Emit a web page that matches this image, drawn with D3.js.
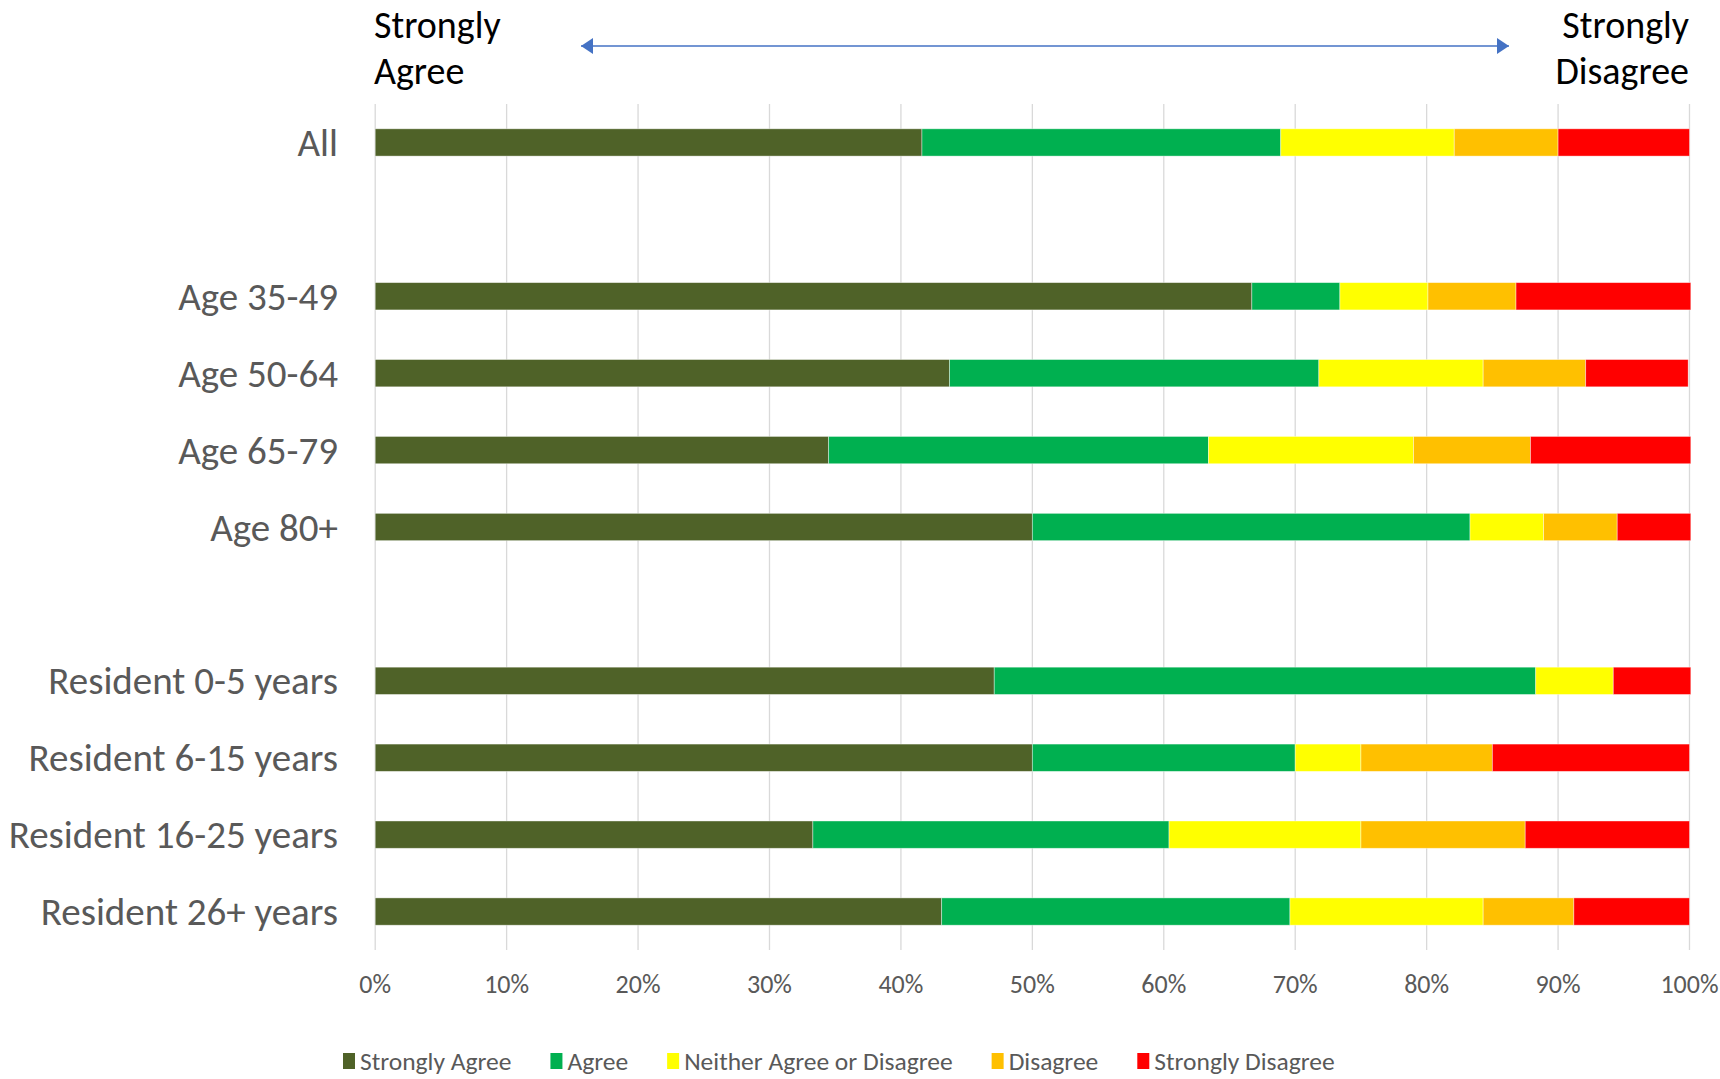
<!DOCTYPE html>
<html>
<head>
<meta charset="utf-8">
<script src="https://cdn.jsdelivr.net/npm/d3@7"></script>
<style>
  html, body { margin: 0; padding: 0; background: #fff; }
  svg { display: block; }
  text { font-family: Carlito, Calibri, Lato, "Open Sans", sans-serif; }
</style>
</head>
<body>
<svg id="chart" width="1720" height="1079"></svg>
<script>
// ---- data ----
const categories = ["All", "", "Age 35-49", "Age 50-64", "Age 65-79", "Age 80+", "",
  "Resident 0-5 years", "Resident 6-15 years", "Resident 16-25 years", "Resident 26+ years"];
const seriesNames = ["Strongly Agree", "Agree", "Neither Agree or Disagree", "Disagree", "Strongly Disagree"];
const stronglyAgree    = [41.6, 0, 66.7, 43.7, 34.5, 50.0, 0, 47.1, 50.0, 33.3, 43.1];
const agree            = [27.3, 0,  6.7, 28.1, 28.9, 33.3, 0, 41.2, 20.0, 27.1, 26.5];
const neither          = [13.2, 0,  6.7, 12.5, 15.6,  5.6, 0,  5.9,  5.0, 14.6, 14.7];
const disagree         = [ 7.9, 0,  6.7,  7.8,  8.9,  5.6, 0,  0.0, 10.0, 12.5,  6.9];
const stronglyDisagree = [10.0, 0, 13.3,  7.8, 12.2,  5.6, 0,  5.9, 15.0, 12.5,  8.8];
const seriesColors = ["#4F6228", "#00B050", "#FFFF00", "#FFC000", "#FF0000"];
const xTicks = [0, 10, 20, 30, 40, 50, 60, 70, 80, 90, 100];
const headerLeft = ["Strongly", "Agree"];
const headerRight = ["Strongly", "Disagree"];

const seriesValues = [stronglyAgree, agree, neither, disagree, stronglyDisagree];

// ---- layout ----
const svg = d3.select("#chart");
const x = d3.scaleLinear().domain([0, 100]).range([375.2, 1689.5]);
const y = d3.scaleBand().domain(d3.range(categories.length)).range([104, 950])
  .paddingInner(0.645).paddingOuter(0.3225);

// gridlines
svg.append("g").selectAll("line").data(xTicks).join("line")
  .attr("x1", d => x(d)).attr("x2", d => x(d))
  .attr("y1", 104).attr("y2", 950)
  .attr("stroke", "#D9D9D9").attr("stroke-width", 1.3);

// stacked bars
const rows = categories.map((c, i) => {
  const obj = { i };
  seriesNames.forEach((n, k) => obj[n] = seriesValues[k][i]);
  return obj;
});
const stack = d3.stack().keys(seriesNames)(rows);
svg.append("g").selectAll("g").data(stack).join("g")
  .attr("fill", (d, k) => seriesColors[k])
  .selectAll("rect").data(d => d.filter(p => p[1] - p[0] > 0)).join("rect")
  .attr("x", d => x(d[0])).attr("width", d => x(d[1]) - x(d[0]))
  .attr("y", d => y(d.data.i)).attr("height", y.bandwidth())
  .attr("stroke", "#ffffff").attr("stroke-opacity", 0.5).attr("stroke-width", 0.8);

// category labels
svg.append("g").selectAll("text").data(categories.map((c, i) => ({ c, i })).filter(d => d.c))
  .join("text")
  .attr("x", 338).attr("y", d => y(d.i) + y.bandwidth() / 2)
  .attr("dy", "0.35em").attr("text-anchor", "end")
  .attr("font-size", 39).attr("fill", "#595959")
  .text(d => d.c);

// x axis tick labels
svg.append("g").selectAll("text").data(xTicks).join("text")
  .attr("x", d => x(d)).attr("y", 984).attr("dy", "0.35em")
  .attr("text-anchor", "middle").attr("font-size", 26).attr("fill", "#595959")
  .text(d => d + "%");

// header
const hl = svg.append("text").attr("font-size", 38).attr("fill", "#000");
headerLeft.forEach((t, k) => hl.append("tspan").attr("x", 374).attr("y", 38 + k * 46).text(t));
const hr = svg.append("text").attr("font-size", 38).attr("fill", "#000").attr("text-anchor", "end");
headerRight.forEach((t, k) => hr.append("tspan").attr("x", 1689).attr("y", 38 + k * 46).text(t));

// double-headed arrow
const defs = svg.append("defs");
["start", "end"].forEach(id => {
  defs.append("marker").attr("id", "arr-" + id)
    .attr("viewBox", "0 0 12 16").attr("refX", id === "end" ? 12 : 0).attr("refY", 8)
    .attr("markerWidth", 12).attr("markerHeight", 16).attr("markerUnits", "userSpaceOnUse")
    .attr("orient", "auto")
    .append("path")
    .attr("d", id === "end" ? "M0,0 L12,8 L0,16 Z" : "M12,0 L0,8 L12,16 Z")
    .attr("fill", "#4472C4");
});
svg.append("line").attr("x1", 581).attr("x2", 1509).attr("y1", 46).attr("y2", 46)
  .attr("stroke", "#4472C4").attr("stroke-width", 1.5)
  .attr("marker-start", "url(#arr-start)").attr("marker-end", "url(#arr-end)");

// legend
const legend = svg.append("g");
let lx = 343;
seriesNames.forEach((n, k) => {
  const g = legend.append("g");
  g.append("rect").attr("x", lx).attr("y", 1053).attr("width", 12).attr("height", 16)
    .attr("fill", seriesColors[k]);
  const t = g.append("text").attr("x", lx + 17).attr("y", 1061).attr("dy", "0.35em")
    .attr("font-size", 25.5).attr("fill", "#595959").text(n);
  lx += 17 + t.node().getComputedTextLength() + 39;
});
</script>
</body>
</html>
